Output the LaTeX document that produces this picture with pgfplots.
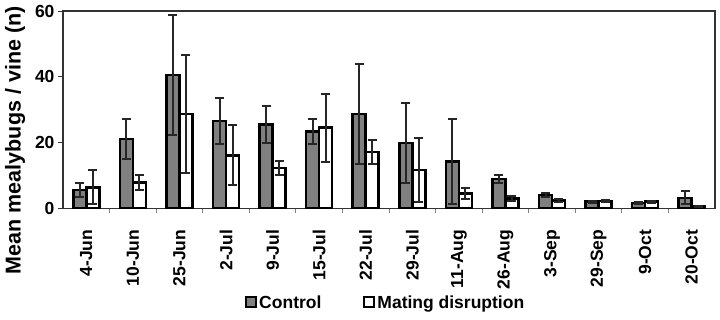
\documentclass[border=0pt]{standalone}
\usepackage{pgfplots}
\pgfplotsset{compat=1.18}
\usepackage{fontspec}
\setmainfont{Liberation Sans}
\definecolor{ctrl}{HTML}{808080}
\definecolor{axc}{HTML}{333333}
\begin{document}
\begin{tikzpicture}
\path[use as bounding box] (-63pt,-110.7pt) rectangle (657pt,208.3pt);
\begin{axis}[
  at={(0pt,0pt)}, anchor=south west,
  width=652pt, height=197.3pt, scale only axis,
  xmin=-0.5, xmax=13.5, ymin=0, ymax=60,
  ybar=0pt, bar width=13pt,
  axis line style={draw=axc, line width=1.5pt},
  xtick={0,...,13},
  xticklabels={4-Jun,10-Jun,25-Jun,2-Jul,9-Jul,15-Jul,22-Jul,29-Jul,11-Aug,26-Aug,3-Sep,29-Sep,9-Oct,20-Oct},
  major x tick style={draw=none},
  minor xtick={0.5,1.5,...,12.5},
  minor tick length=5pt,
  minor x tick style={draw=gray, line width=0.8pt},
  ytick={0,20,40,60},
  major tick length=5pt,
  tick align=outside,
  tick pos=left,
  y tick style={draw=axc, line width=1pt},
  /pgf/number format/assume math mode=true,
  xticklabel style={rotate=90, anchor=east, font=\fontsize{17.5}{20}\selectfont\bfseries, xshift=-13pt},
  yticklabel style={font=\fontsize{17.5}{20}\selectfont\bfseries},
  ylabel={Mean mealybugs / vine (n)},
  ylabel style={at={(axis description cs:-0.0736,0.345)}, anchor=center, rotate=0, font=\fontsize{21.5}{24}\selectfont\bfseries},
  legend columns=2,
  legend style={draw=none, fill=none, at={(axis description cs:0.495,-0.477)}, anchor=center,
    font=\fontsize{17.5}{20}\selectfont\bfseries, column sep=0pt,
    /tikz/every even column/.append style={column sep=40pt}},
  legend image code/.code={\draw[#1, line width=2pt] (0pt,-5pt) rectangle (10pt,5pt);},
]
\addplot[fill=ctrl, draw=black, line width=2.5pt,
  error bars/.cd, y dir=both, y explicit,
  error mark=-,
  error bar style={line width=2pt, draw=black!85},
  error mark options={rotate=90, line width=2pt, mark size=4.5pt, draw=black!85}]
  coordinates {
  (0,5.5) +- (0,2.2)
  (1,21.1) +- (0,6.1)
  (2,40.6) +- (0,18.2)
  (3,26.5) +- (0,7.0)
  (4,25.5) +- (0,5.5)
  (5,23.4) +- (0,3.8)
  (6,28.7) +- (0,15.1)
  (7,19.9) +- (0,12.1)
  (8,14.2) +- (0,13.0)
  (9,8.9) +- (0,1.2)
  (10,4.0) +- (0,0.7)
  (11,2.0) +- (0,0.3)
  (12,1.6) +- (0,0.3)
  (13,3.2) +- (0,2.0)
  };
\addplot[fill=white, draw=black, line width=2.5pt,
  error bars/.cd, y dir=both, y explicit,
  error mark=-,
  error bar style={line width=2pt, draw=black!85},
  error mark options={rotate=90, line width=2pt, mark size=4.5pt, draw=black!85}]
  coordinates {
  (0,6.4) +- (0,5.1)
  (1,7.9) +- (0,2.3)
  (2,28.7) +- (0,18.0)
  (3,16.1) +- (0,9.1)
  (4,12.2) +- (0,2.2)
  (5,24.5) +- (0,10.4)
  (6,17.1) +- (0,3.7)
  (7,11.7) +- (0,9.7)
  (8,4.5) +- (0,1.8)
  (9,3.0) +- (0,0.8)
  (10,2.4) +- (0,0.5)
  (11,2.2) +- (0,0.3)
  (12,2.0) +- (0,0.3)
  (13,0.6) +- (0,0.2)
  };
\legend{Control, Mating disruption}
\end{axis}
\end{tikzpicture}
\end{document}
